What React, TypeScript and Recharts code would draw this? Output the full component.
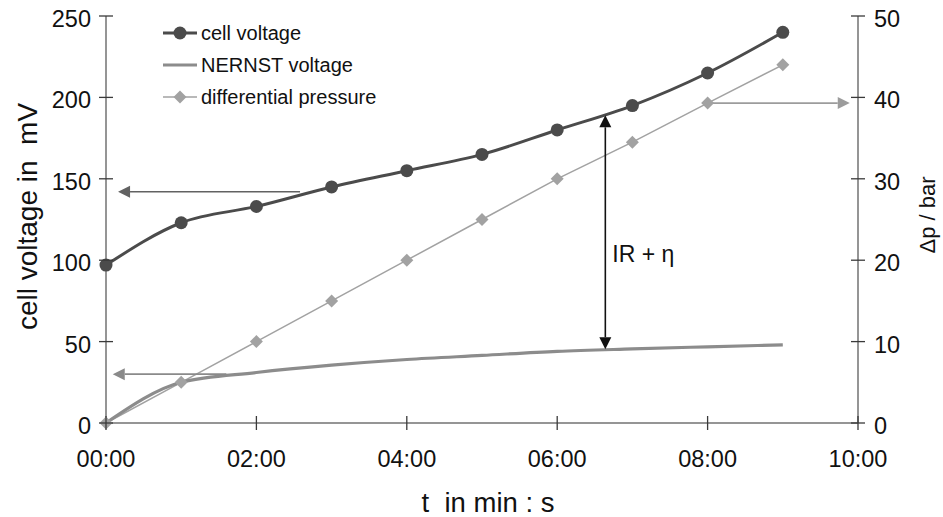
import React from 'react';
import { LineChart, Line, XAxis, YAxis, ReferenceLine, Legend } from 'recharts';

// ---- data ----
const minutes = [0, 1, 2, 3, 4, 5, 6, 7, 8, 9];
const cellVoltage = [97, 123, 133, 145, 155, 165, 180, 195, 215, 240];
const nernstVoltage = [0, 25, 31, 35.5, 39, 41.5, 44, 45.5, 46.8, 48];
const diffPressure = [0, 5, 10, 15, 20, 25, 30, 34.5, 39.3, 44];
const xTicks = [0, 2, 4, 6, 8, 10];
const leftTicks = [0, 50, 100, 150, 200, 250];
const rightTicks = [0, 10, 20, 30, 40, 50];

// annotation arrows in data coordinates
const cellArrow = [{ x: 2.58, y: 142 }, { x: 0.16, y: 142 }];
const nernstArrow = [{ x: 1.6, y: 30 }, { x: 0.09, y: 30 }];
const pressureArrow = [{ x: 8, y: 39.3 }, { x: 9.89, y: 39.3 }];
const overpotentialArrow = [{ x: 6.64, y: 189 }, { x: 6.64, y: 45.3 }];
const overpotentialLabel = 'IR + η';

const data = minutes.map((t, i) => ({
  t,
  cell: cellVoltage[i],
  nernst: nernstVoltage[i],
  dp: diffPressure[i],
}));

const FONT = '"Liberation Sans", Arial, Helvetica, sans-serif';
const CELL = '#4b4b4b';
const NERNST = '#8c8c8c';
const DP = '#a2a2a2';
const AXIS = '#727272';
const TICK = '#3a3a3a';
const TICK_FS = 23.5;

const fmt = (t: number) => `${String(t).padStart(2, '0')}:00`;

const XTick = (p: any) => {
  const { x, y, payload } = p;
  return (
    <g>
      <line x1={x} x2={x} y1={y - 7} y2={y + 7} stroke={TICK} strokeWidth={1.3} />
      <text x={x} y={y + 44} textAnchor="middle" fontSize={TICK_FS} fill="#111" fontFamily={FONT}>
        {fmt(payload.value)}
      </text>
    </g>
  );
};

const LeftTick = (p: any) => {
  const { x, y, payload } = p;
  return (
    <g>
      <line x1={x - 7} x2={x + 7} y1={y} y2={y} stroke={TICK} strokeWidth={1.3} />
      <text x={x - 15} y={y + 11} textAnchor="end" fontSize={TICK_FS} fill="#111" fontFamily={FONT}>
        {payload.value}
      </text>
    </g>
  );
};

const RightTick = (p: any) => {
  const { x, y, payload } = p;
  return (
    <g>
      <line x1={x - 7} x2={x + 7} y1={y} y2={y} stroke={TICK} strokeWidth={1.3} />
      <text x={x + 16} y={y + 11} textAnchor="start" fontSize={TICK_FS} fill="#111" fontFamily={FONT}>
        {payload.value}
      </text>
    </g>
  );
};

const Diamond = (p: any) => {
  const { cx, cy, index } = p;
  if (cx == null || cy == null) return <g key={index} />;
  const h = 6.5;
  return (
    <path
      key={index}
      d={`M${cx},${cy - h} L${cx + h},${cy} L${cx},${cy + h} L${cx - h},${cy} Z`}
      fill={DP}
    />
  );
};

const CellDot = (p: any) => {
  const { cx, cy, index } = p;
  if (cx == null || cy == null) return <g key={index} />;
  return <circle key={index} cx={cx} cy={cy} r={6.5} fill={CELL} />;
};

function arrowShape(color: string, sw: number, headStart: boolean, headEnd: boolean, label?: string) {
  return (p: any) => {
    const x1 = Number(p.x1), y1 = Number(p.y1), x2 = Number(p.x2), y2 = Number(p.y2);
    const dx = x2 - x1, dy = y2 - y1;
    const len = Math.hypot(dx, dy) || 1;
    const ux = dx / len, uy = dy / len;
    const L = 12, W = 6;
    const head = (tx: number, ty: number, vx: number, vy: number) =>
      `M${tx},${ty} L${tx - vx * L - vy * W},${ty - vy * L + vx * W} L${tx - vx * L + vy * W},${ty - vy * L - vx * W} Z`;
    const sx = headStart ? x1 + ux * L : x1;
    const sy = headStart ? y1 + uy * L : y1;
    const ex = headEnd ? x2 - ux * L : x2;
    const ey = headEnd ? y2 - uy * L : y2;
    return (
      <g>
        <line x1={sx} y1={sy} x2={ex} y2={ey} stroke={color} strokeWidth={sw} />
        {headEnd && <path d={head(x2, y2, ux, uy)} fill={color} />}
        {headStart && <path d={head(x1, y1, -ux, -uy)} fill={color} />}
        {label && (
          <text
            x={x1 + 7}
            y={(y1 + y2) / 2 + 30}
            fontSize={23}
            fill="#111"
            fontFamily={FONT}
            style={{ whiteSpace: 'pre' }}
          >
            {label}
          </text>
        )}
      </g>
    );
  };
}

const LegendContent = () => {
  const rows = [
    { name: 'cell voltage', y: 23, color: CELL, sw: 3, marker: 'circle' },
    { name: 'NERNST voltage', y: 55, color: NERNST, sw: 3, marker: 'none' },
    { name: 'differential pressure', y: 87, color: DP, sw: 1.5, marker: 'diamond' },
  ];
  return (
    <svg width={260} height={110} style={{ overflow: 'visible', display: 'block' }}>
      {rows.map((r) => (
        <g key={r.name}>
          <line x1={13} x2={47} y1={r.y} y2={r.y} stroke={r.color} strokeWidth={r.sw} />
          {r.marker === 'circle' && <circle cx={30} cy={r.y} r={6.5} fill={r.color} />}
          {r.marker === 'diamond' && (
            <path d={`M30,${r.y - 6.5} L36.5,${r.y} L30,${r.y + 6.5} L23.5,${r.y} Z`} fill={r.color} />
          )}
          <text x={51} y={r.y + 7} fontSize={20} fill="#111" fontFamily={FONT}>
            {r.name}
          </text>
        </g>
      ))}
    </svg>
  );
};

export default function App() {
  return (
    <div style={{ position: 'absolute', left: 0, top: 0, width: 943, height: 517, background: '#fff' }}>
      <LineChart
        width={943}
        height={517}
        data={data}
        margin={{ top: 16, right: 0, bottom: 0, left: 0 }}
      >
        <XAxis
          dataKey="t"
          type="number"
          domain={[0, 10]}
          ticks={xTicks}
          height={94}
          tickSize={0}
          tickMargin={0}
          tickLine={false}
          axisLine={{ stroke: AXIS, strokeWidth: 1.5 }}
          tick={<XTick />}
          interval={0}
          label={{
            content: () => (
              <text
                x={488}
                y={512}
                textAnchor="middle"
                fontSize={27.5}
                fill="#111"
                fontFamily={FONT}
                style={{ whiteSpace: 'pre' }}
              >
                {'t  in min : s'}
              </text>
            ),
          }}
        />
        <YAxis
          yAxisId="left"
          domain={[0, 250]}
          ticks={leftTicks}
          width={106}
          tickSize={0}
          tickMargin={0}
          tickLine={false}
          axisLine={{ stroke: AXIS, strokeWidth: 1.5 }}
          tick={<LeftTick />}
          interval={0}
          label={{
            content: () => (
              <text
                x={37}
                y={216.5}
                transform="rotate(-90 37 216.5)"
                textAnchor="middle"
                fontSize={28}
                fill="#111"
                fontFamily={FONT}
                style={{ whiteSpace: 'pre' }}
              >
                {'cell voltage in  mV'}
              </text>
            ),
          }}
        />
        <YAxis
          yAxisId="right"
          orientation="right"
          domain={[0, 50]}
          ticks={rightTicks}
          width={85}
          tickSize={0}
          tickMargin={0}
          tickLine={false}
          axisLine={{ stroke: AXIS, strokeWidth: 1.5 }}
          tick={<RightTick />}
          interval={0}
          label={{
            content: () => (
              <text
                x={935}
                y={215}
                transform="rotate(-90 935 215)"
                textAnchor="middle"
                fontSize={22}
                fill="#111"
                fontFamily={FONT}
                style={{ whiteSpace: 'pre' }}
              >
                {'Δp / bar'}
              </text>
            ),
          }}
        />
        <Legend
          layout="horizontal"
          verticalAlign="middle"
          align="center"
          wrapperStyle={{ left: 150, top: 10, width: 260, height: 110 }}
          content={<LegendContent />}
        />
        <Line
          yAxisId="right"
          dataKey="dp"
          type="linear"
          stroke={DP}
          strokeWidth={1.5}
          dot={<Diamond />}
          activeDot={false}
          isAnimationActive={false}
        />
        <Line
          yAxisId="left"
          dataKey="nernst"
          type="monotone"
          stroke={NERNST}
          strokeWidth={3.2}
          dot={false}
          activeDot={false}
          isAnimationActive={false}
        />
        <Line
          yAxisId="left"
          dataKey="cell"
          type="monotone"
          stroke={CELL}
          strokeWidth={3}
          dot={<CellDot />}
          activeDot={false}
          isAnimationActive={false}
        />
        <ReferenceLine
          yAxisId="left"
          segment={cellArrow}
          stroke="#707070"
          shape={arrowShape('#626262', 1.6, false, true)}
        />
        <ReferenceLine
          yAxisId="left"
          segment={nernstArrow}
          stroke={NERNST}
          shape={arrowShape('#8a8a8a', 1.6, false, true)}
        />
        <ReferenceLine
          yAxisId="right"
          segment={pressureArrow}
          stroke={DP}
          shape={arrowShape('#9c9c9c', 1.6, false, true)}
        />
        <ReferenceLine
          yAxisId="left"
          segment={overpotentialArrow}
          stroke="#111"
          shape={arrowShape('#111', 1.6, true, true, overpotentialLabel)}
        />
      </LineChart>
    </div>
  );
}
